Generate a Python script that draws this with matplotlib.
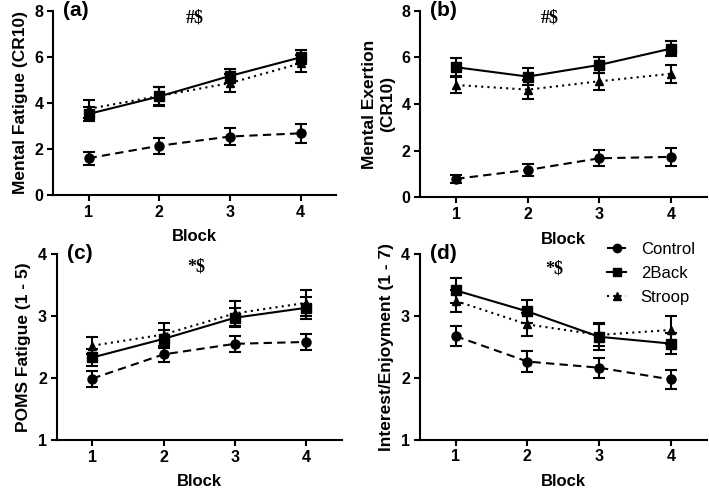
import numpy as np
import matplotlib.pyplot as plt
from matplotlib.lines import Line2D

plt.rcParams['font.family'] = ['Liberation Sans', 'DejaVu Sans']

blocks = [1, 2, 3, 4]
groups = ["Control", "2Back", "Stroop"]

# (a) Mental fatigue
fatigue_mean = {"Control": [1.60, 2.14, 2.54, 2.68],
                "2Back": [3.52, 4.28, 5.17, 5.98],
                "Stroop": [3.74, 4.30, 4.86, 5.72]}
fatigue_err = {"Control": [0.28, 0.34, 0.38, 0.40],
               "2Back": [0.30, 0.40, 0.30, 0.30],
               "Stroop": [0.38, 0.40, 0.40, 0.36]}

# (b) Mental exertion
exertion_mean = {"Control": [0.80, 1.18, 1.68, 1.74],
                 "2Back": [5.58, 5.18, 5.68, 6.38],
                 "Stroop": [4.82, 4.62, 4.98, 5.30]}
exertion_err = {"Control": [0.16, 0.26, 0.34, 0.40],
                "2Back": [0.38, 0.36, 0.33, 0.32],
                "Stroop": [0.36, 0.42, 0.37, 0.38]}

# (c) POMS fatigue
poms_mean = {"Control": [1.99, 2.38, 2.55, 2.58],
             "2Back": [2.33, 2.63, 2.97, 3.13],
             "Stroop": [2.52, 2.70, 3.04, 3.21]}
poms_err = {"Control": [0.13, 0.12, 0.13, 0.13],
            "2Back": [0.14, 0.15, 0.15, 0.18],
            "Stroop": [0.14, 0.18, 0.20, 0.21]}

# (d) Interest / enjoyment
interest_mean = {"Control": [2.67, 2.26, 2.16, 1.97],
                 "2Back": [3.41, 3.07, 2.66, 2.55],
                 "Stroop": [3.24, 2.86, 2.69, 2.77]}
interest_err = {"Control": [0.16, 0.17, 0.16, 0.15],
                "2Back": [0.20, 0.18, 0.22, 0.17],
                "Stroop": [0.18, 0.18, 0.18, 0.22]}

styles = {"Control": dict(ls=(0, (4, 2.5)), marker="o", ms=6.5),
          "2Back": dict(ls="-", marker="s", ms=6.5),
          "Stroop": dict(ls=(0, (1, 2)), marker="^", ms=6)}

fig = plt.figure(figsize=(7.09, 4.90), dpi=100)

panels = [
    ([0.075, 0.602, 0.399, 0.376], fatigue_mean, fatigue_err, (0, 8), [0, 2, 4, 6, 8],
     "Mental Fatigue (CR10)", "(a)", "#$", (0.50, 0.96)),
    ([0.593, 0.597, 0.404, 0.381], exertion_mean, exertion_err, (0, 8), [0, 2, 4, 6, 8],
     "Mental Exertion\n(CR10)", "(b)", "#$", (0.45, 0.96)),
    ([0.080, 0.102, 0.402, 0.380], poms_mean, poms_err, (1, 4), [1, 2, 3, 4],
     "POMS Fatigue (1 - 5)", "(c)", "*$", (0.49, 0.93)),
    ([0.592, 0.103, 0.405, 0.379], interest_mean, interest_err, (1, 4), [1, 2, 3, 4],
     "Interest/Enjoyment (1 - 7)", "(d)", "*$", (0.47, 0.92)),
]

for rect, means, errs, ylim, yticks, ylabel, tag, sig, sig_xy in panels:
    ax = fig.add_axes(rect)
    for g in groups:
        st = styles[g]
        ax.errorbar(blocks, means[g], yerr=errs[g], color="black", lw=1.5,
                    ls=st["ls"], marker=st["marker"], ms=st["ms"],
                    capsize=4, capthick=1.5, elinewidth=1.5, clip_on=False)
    ax.set_xlim(0.5, 4.5)
    ax.set_ylim(*ylim)
    ax.set_xticks(blocks)
    ax.set_yticks(yticks)
    ax.spines[["top", "right"]].set_visible(False)
    ax.spines[["left", "bottom"]].set_linewidth(1.5)
    ax.tick_params(width=1.5, length=4, labelsize=11.5, pad=3)
    for lab in ax.get_xticklabels() + ax.get_yticklabels():
        lab.set_fontweight("bold")
    ax.set_xlabel("Block", fontsize=12, fontweight="bold", labelpad=7)
    ax.set_ylabel(ylabel, fontsize=12.5, fontweight="bold", labelpad=5)
    ax.text(0.035, 1.0, tag, transform=ax.transAxes, fontsize=15,
            fontweight="bold", va="center", ha="left")
    ax.text(sig_xy[0], sig_xy[1], sig, transform=ax.transAxes, fontsize=13,
            family="Liberation Serif", fontweight="bold", va="center", ha="center")
    if tag == "(d)":
        handles = [Line2D([], [], color="black", lw=1.5, ls=styles[g]["ls"],
                          marker=styles[g]["marker"], ms=styles[g]["ms"] - 0.5)
                   for g in groups]
        ax.legend(handles, groups, loc="upper right", bbox_to_anchor=(1.01, 1.145),
                  frameon=False, fontsize=12, handlelength=1.1, handletextpad=0.9,
                  labelspacing=0.55)

fig.savefig("out.png", dpi=100)
